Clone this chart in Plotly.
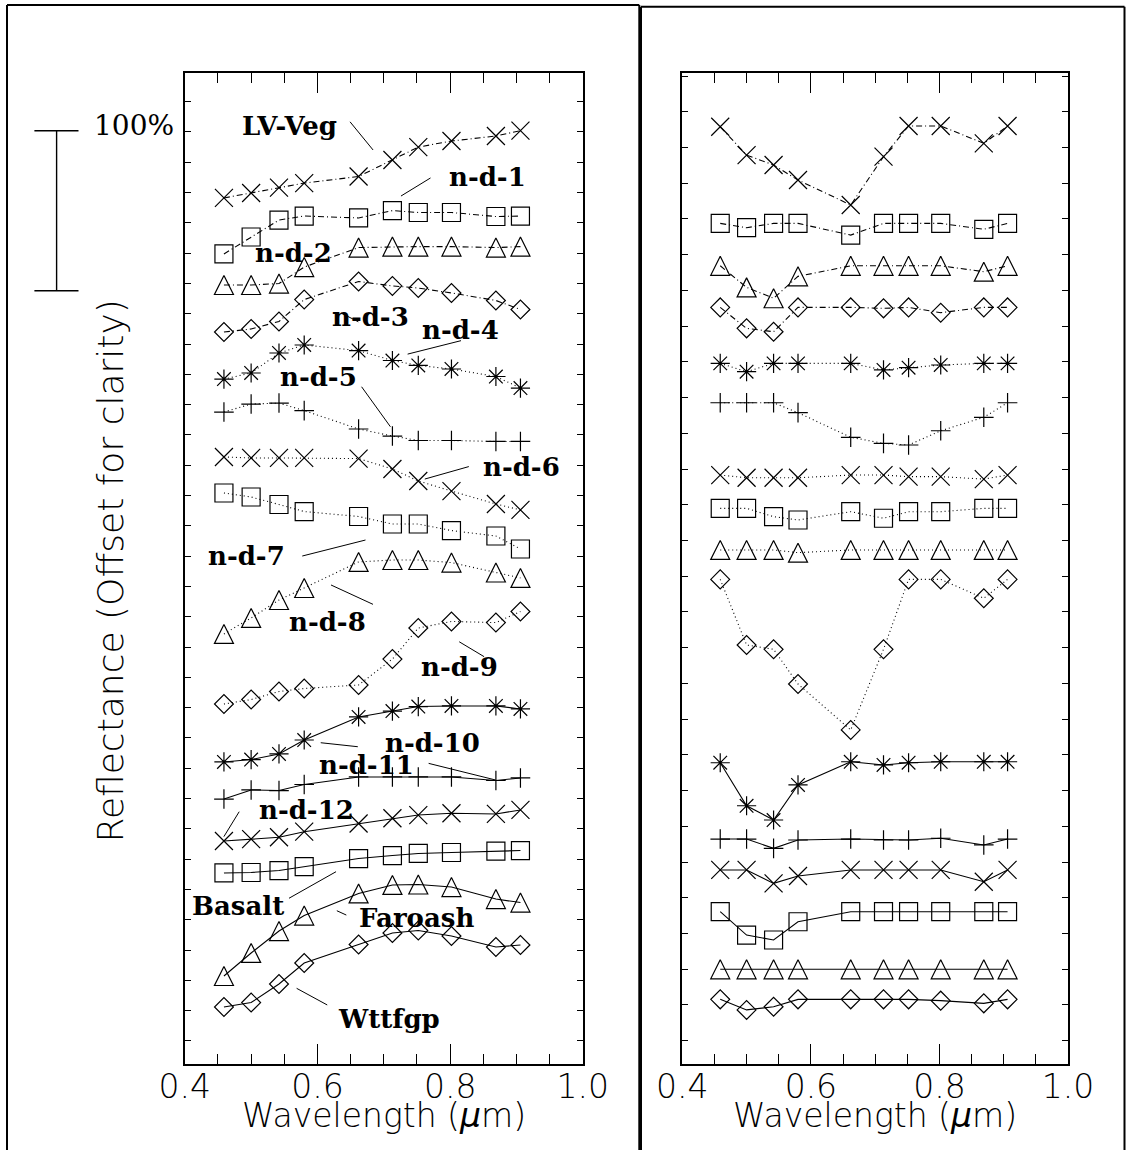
import plotly.graph_objects as go

W, H = 1126, 1150

# ---------------------------------------------------------------- data
wavelength = [0.459, 0.500, 0.542, 0.580, 0.662, 0.713, 0.752, 0.802, 0.869, 0.906]

sample_names = ["LV-Veg", "n-d-1", "n-d-2", "n-d-3", "n-d-4", "n-d-5", "n-d-6", "n-d-7",
                "n-d-8", "n-d-9", "n-d-10", "n-d-11", "n-d-12", "Basalt", "Faroash", "Wttfgp"]

# left panel: reflectance (%), each spectrum shifted for clarity
lv_veg = [541.3, 544.4, 547.8, 550.6, 554.7, 565.0, 573.1, 576.9, 580.0, 583.4]
nd1 = [506.3, 516.9, 527.5, 530.0, 528.8, 533.4, 532.2, 532.2, 529.7, 530.0]
nd2 = [486.9, 486.9, 487.8, 498.1, 510.3, 510.9, 510.9, 510.9, 510.3, 510.9]
nd3 = [457.5, 459.4, 464.1, 477.8, 489.1, 486.3, 485.0, 481.9, 477.2, 471.6]
nd4 = [428.1, 431.9, 444.4, 449.4, 445.9, 439.7, 436.6, 434.4, 429.7, 422.5]
nd5 = [407.5, 412.5, 413.1, 408.4, 396.9, 392.5, 389.7, 389.7, 389.1, 389.1]
nd6 = [379.4, 378.8, 378.8, 378.8, 378.4, 371.9, 364.4, 358.1, 350.0, 346.3]
nd7 = [356.9, 354.4, 349.7, 345.3, 342.2, 337.5, 337.5, 333.4, 330.0, 321.9]
nd8 = [268.8, 278.8, 290.0, 297.5, 313.8, 315.0, 315.0, 313.4, 307.2, 303.8]
nd9 = [225.0, 227.8, 232.8, 234.7, 236.9, 253.1, 272.5, 276.6, 275.9, 282.8]
nd10 = [188.8, 190.3, 193.8, 202.5, 216.9, 220.6, 223.4, 223.8, 223.8, 221.9]
nd11 = [165.6, 171.3, 170.9, 174.7, 179.4, 179.4, 179.4, 179.4, 177.2, 178.8]
nd12 = [139.4, 140.6, 141.7, 145.2, 150.3, 153.6, 155.6, 156.7, 156.3, 158.8]
basalt = [119.4, 119.7, 120.9, 123.4, 128.4, 130.3, 131.6, 132.2, 133.1, 133.4]
faroash = [55.0, 69.4, 83.1, 92.8, 106.6, 111.9, 112.2, 110.6, 103.1, 100.9]
wttfgp = [35.6, 38.4, 50.0, 63.1, 74.7, 81.9, 83.4, 80.0, 73.1, 74.4]

left_series = [lv_veg, nd1, nd2, nd3, nd4, nd5, nd6, nd7, nd8, nd9,
               nd10, nd11, nd12, basalt, faroash, wttfgp]

# right panel: same samples, same ordering
lv_veg_r = [585.8, 568.1, 561.9, 552.5, 536.9, 567.1, 586.3, 586.3, 575.4, 586.3]
nd1_r = [525.4, 522.7, 525.4, 525.4, 518.1, 525.4, 525.4, 525.4, 521.7, 525.4]
nd2_r = [498.9, 485.4, 478.6, 492.3, 498.9, 498.9, 498.9, 498.9, 495.2, 498.9]
nd3_r = [472.9, 459.8, 457.7, 472.9, 472.9, 472.3, 472.9, 469.6, 472.9, 472.9]
nd4_r = [437.9, 432.7, 437.9, 437.9, 437.9, 433.8, 435.2, 436.9, 437.9, 437.9]
nd5_r = [413.3, 413.3, 413.3, 407.1, 391.7, 387.9, 386.9, 395.8, 404.2, 413.3]
nd6_r = [368.1, 366.4, 366.4, 366.4, 368.1, 368.1, 367.1, 367.1, 365.6, 368.1]
nd7_r = [347.3, 347.3, 342.1, 340.0, 345.2, 341.1, 345.2, 345.2, 347.3, 347.3]
nd8_r = [321.3, 321.3, 321.3, 319.6, 321.3, 321.3, 321.3, 321.3, 321.3, 321.3]
nd9_r = [302.9, 261.9, 259.2, 237.5, 208.8, 259.2, 302.9, 302.9, 291.1, 302.9]
nd10_r = [188.3, 161.4, 152.5, 174.4, 188.9, 186.9, 188.3, 188.9, 188.9, 188.9]
nd11_r = [140.6, 140.6, 134.8, 140.0, 140.6, 140.0, 140.0, 141.1, 136.9, 140.6]
nd12_r = [121.3, 121.3, 112.9, 117.5, 121.3, 121.3, 121.3, 121.3, 113.9, 121.3]
basalt_r = [95.2, 80.6, 77.5, 88.9, 95.2, 95.2, 95.2, 95.2, 95.2, 95.2]
faroash_r = [59.2, 59.2, 59.2, 59.2, 59.2, 59.2, 59.2, 59.2, 59.2, 59.2]
wttfgp_r = [40.4, 33.8, 35.8, 40.4, 40.4, 40.4, 40.4, 39.6, 37.9, 40.4]

right_series = [lv_veg_r, nd1_r, nd2_r, nd3_r, nd4_r, nd5_r, nd6_r, nd7_r, nd8_r, nd9_r,
                nd10_r, nd11_r, nd12_r, basalt_r, faroash_r, wttfgp_r]

x_ticks = [0.4, 0.6, 0.8, 1.0]
scale_bar = [483.3, 583.3]          # 100 % reflectance bar (left panel units)

# ---------------------------------------------------------------- styles
SYMBOLS = ["x", "square", "triangle", "diamond", "asterisk", "plus"]
MARKER = {
    "x":        dict(symbol="x-thin-open", size=18),
    "square":   dict(symbol="square-open", size=18),
    "triangle": dict(symbol="arrow-down-open", size=19, angle=180, standoff=9.5),
    "diamond":  dict(symbol="diamond-open", size=14.5),
    "asterisk": dict(symbol="asterisk-open", size=16),
    "plus":     dict(symbol="cross-thin-open", size=14),
}
DASHDOT = "6px,3px,1px,3px"
DOTTED = "1px,3px"


def dash_for(i):
    if i < 4:
        return DASHDOT
    if i < 10:
        return DOTTED
    return "solid"


SANS = "DejaVu Sans"
SERIF = "DejaVu Serif"

fig = go.Figure()

for panel, (series, xa, ya) in enumerate([(left_series, "x", "y"), (right_series, "x2", "y2")]):
    for i, vals in enumerate(series):
        m = dict(MARKER[SYMBOLS[i % 6]])
        m.update(color="black", line=dict(color="black", width=1.2))
        fig.add_trace(go.Scatter(
            x=wavelength, y=vals, xaxis=xa, yaxis=ya, name=sample_names[i],
            mode="lines+markers",
            line=dict(color="black", width=1.1, dash=dash_for(i)),
            marker=m, hoverinfo="skip", showlegend=False,
        ))

# ---------------------------------------------------------------- axes
YDOM = [1 - 1064 / H, 1 - 73 / H]
YRANGE = [0, 619.4]


def x_axis(domain, anchor):
    return dict(
        domain=domain, anchor=anchor, range=[0.4, 1.0], automargin=False,
        tickmode="array", tickvals=x_ticks, ticktext=[f"{v:.1f}" for v in x_ticks],
        ticks="inside", ticklen=20, tickwidth=1.2, tickcolor="black",
        minor=dict(ticks="inside", ticklen=10, tickwidth=1.2, tickcolor="black",
                   tick0=0.4, dtick=0.05, showgrid=False),
        showline=True, linecolor="black", linewidth=1.6, mirror="ticks",
        showgrid=False, zeroline=False,
        tickfont=dict(family=SANS, size=33, color="black", weight=200),
        ticklabelstandoff=-7,
    )


def y_axis(domain, anchor, tick0, dtick):
    return dict(
        domain=domain, anchor=anchor, range=YRANGE, automargin=False,
        tickmode="linear", tick0=tick0, dtick=dtick,
        ticks="inside", ticklen=6, tickwidth=1.2, tickcolor="black",
        showticklabels=False, showline=True, linecolor="black", linewidth=1.6,
        mirror="ticks", showgrid=False, zeroline=False,
    )


fig.update_layout(
    template="none",
    width=W, height=H, autosize=False,
    margin=dict(l=0, r=0, t=0, b=0, pad=0, autoexpand=False),
    paper_bgcolor="white", plot_bgcolor="white", showlegend=False,
    xaxis=x_axis([184.8 / W, 582.8 / W], "y"),
    yaxis=y_axis(YDOM, "x", 14.4, 18.94),
    xaxis2=x_axis([682.3 / W, 1068.0 / W], "y2"),
    yaxis2=y_axis(YDOM, "x2", 14.6, 22.33),
)

# ---------------------------------------------------------------- frames
shapes = []


def pline(x0, y0, x1, y1, w=2):
    shapes.append(dict(type="line", xref="paper", yref="paper",
                       x0=x0 / W, x1=x1 / W, y0=1 - y0 / H, y1=1 - y1 / H,
                       line=dict(color="black", width=w)))


pline(7, 5, 7, H)
pline(7, 5, 639.3, 5)
pline(639.3, 5, 639.3, H)
pline(641, 6.7, 641, H)
pline(641, 6.7, 1124.5, 6.7)
pline(1124.5, 6.7, 1124.5, H)

# 100 % scale bar
bar_x, cap_l, cap_r = 56.6 / W, 34.4 / W, 78.5 / W
for yv in scale_bar:
    shapes.append(dict(type="line", xref="paper", yref="y", x0=cap_l, x1=cap_r, y0=yv, y1=yv,
                       line=dict(color="black", width=1.4)))
shapes.append(dict(type="line", xref="paper", yref="y", x0=bar_x, x1=bar_x,
                   y0=scale_bar[0], y1=scale_bar[1], line=dict(color="black", width=1.4)))

# ---------------------------------------------------------------- sample labels
# (text, label x, label y, leader start, leader end)
label_layout = [
    ("LV-Veg", 0.5571, 586.0, (0.6491, 588.9), (0.6838, 571.3)),
    ("n-d-1", 0.8556, 554.6, (0.7704, 553.8), (0.7259, 542.5)),
    ("n-d-2", 0.5639, 506.9, None, None),
    ("n-d-3", 0.6804, 466.9, (0.6365, 469.2), (0.6616, 463.9)),
    ("n-d-4", 0.8152, 458.7, (0.8164, 452.1), (0.7359, 443.7)),
    ("n-d-5", 0.6016, 429.6, (0.6665, 423.3), (0.7100, 398.3)),
    ("n-d-6", 0.9076, 373.3, (0.8282, 373.4), (0.7618, 365.6)),
    ("n-d-7", 0.4935, 317.5, (0.5771, 317.5), (0.6724, 327.5)),
    ("n-d-8", 0.6153, 276.5, (0.6204, 299.4), (0.6837, 287.3)),
    ("n-d-9", 0.8137, 248.3, (0.8137, 263.9), (0.8512, 254.6)),
    ("n-d-10", 0.7734, 200.4, (0.6049, 200.8), (0.6608, 198.3)),
    ("n-d-11", 0.6738, 186.9, (0.7676, 187.9), (0.8686, 177.5)),
    ("n-d-12", 0.5842, 158.7, (0.4820, 157.7), (0.4589, 142.1)),
    ("Basalt", 0.4807, 98.7, (0.5571, 103.6), (0.6280, 120.2)),
    ("Faroash", 0.7489, 91.1, (0.6292, 95.8), (0.6435, 93.1)),
    ("Wttfgp", 0.7071, 27.9, (0.5686, 47.3), (0.6147, 36.9)),
]

annotations = []
for text, lx, ly, a, b in label_layout:
    annotations.append(dict(text=text, x=lx, y=ly, xref="x", yref="y", showarrow=False,
                            xanchor="center", yanchor="middle",
                            font=dict(family=SERIF, size=26, color="black", weight="bold")))
    if a is not None:
        shapes.append(dict(type="line", xref="x", yref="y", x0=a[0], y0=a[1], x1=b[0], y1=b[1],
                           line=dict(color="black", width=1)))

annotations.append(dict(text="100%", x=134 / W, y=scale_bar[1] + 3.5, xref="paper", yref="y",
                        showarrow=False, xanchor="center", yanchor="middle",
                        font=dict(family=SERIF, size=28, color="black")))

# axis titles
title_font = dict(family=SANS, size=33, color="black", weight=200)
for cx in (383.8, 875.2):
    annotations.append(dict(text="Wavelength (<i>μ</i>m)", x=cx / W, y=1 - 1115 / H,
                            xref="paper", yref="paper", showarrow=False,
                            xanchor="center", yanchor="middle", font=title_font))
annotations.append(dict(text="Reflectance (Offset for clarity)", x=109.5 / W, y=1 - 571 / H,
                        xref="paper", yref="paper", showarrow=False, textangle=-90,
                        xanchor="center", yanchor="middle",
                        font=dict(family=SANS, size=36, color="black", weight=200)))

fig.update_layout(shapes=shapes, annotations=annotations)

# page without body margin or scrollbars so the figure fills the window exactly
page_css = ("document.documentElement.style.margin='0';document.body.style.margin='0';"
            "document.documentElement.style.overflow='hidden';document.body.style.overflow='hidden';")
fig.write_html("out.html", post_script=page_css)
